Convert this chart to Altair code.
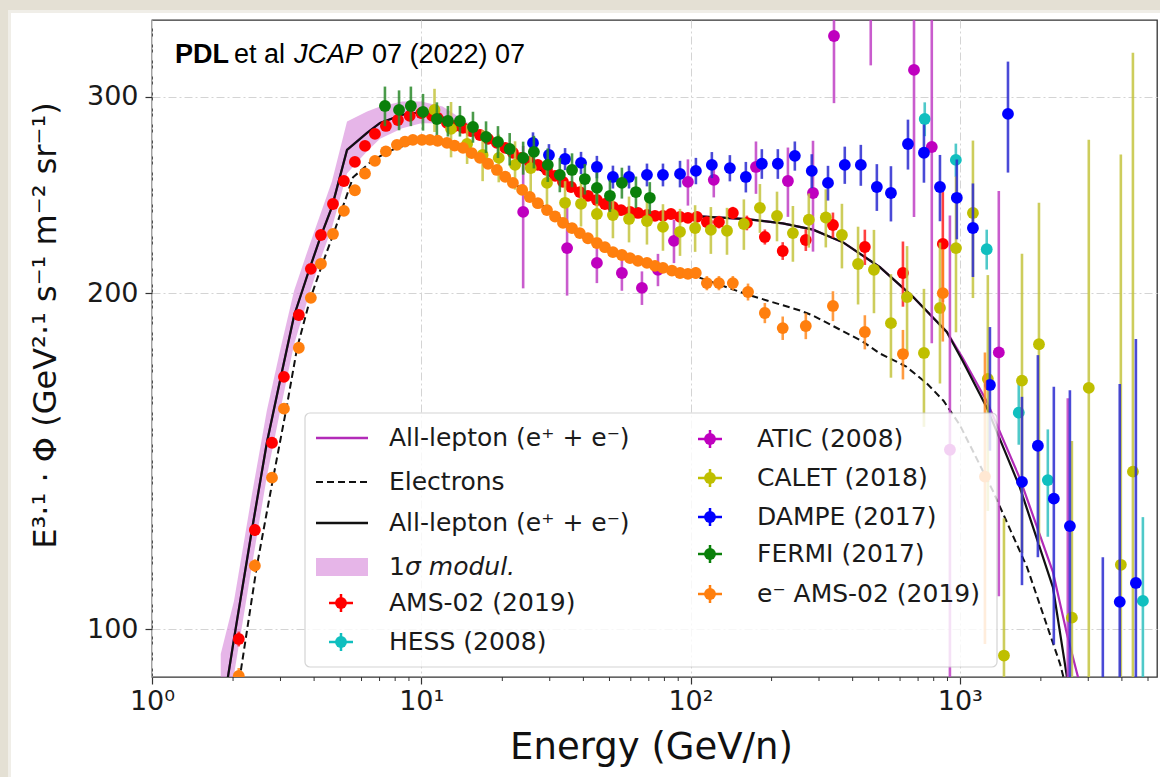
import altair as alt
import pandas as pd

# ---------------- model curves ----------------
lep_E = [1.85, 2.016, 2.35, 2.67, 3.01, 3.37, 3.80, 4.21, 4.66, 5.30, 6.29, 7.03, 8.5, 10, 11, 13, 15, 20, 25, 30,
         40, 50, 60, 80, 100, 162, 220, 285, 370, 505, 670, 895, 1024, 1259, 1671, 2218, 2500, 2700]
lep_Y = [86, 98, 122.7, 146.9, 168.3, 190.9, 208.5, 224.1, 239, 268.8, 278.4, 284.2, 289, 290.5, 290, 285, 280, 270, 262, 255,
         246, 240.5, 237, 235, 234.6, 233, 231, 228, 222, 211, 198.5, 184.6, 174, 158, 134, 109, 90.6, 82]

mod_E = [1.85, 2.016, 2.35, 2.67, 3.01, 3.37, 3.80, 4.21, 4.66, 5.30, 6.29, 7.03, 8.5, 10, 11, 13, 15, 20, 25, 30,
         40, 50, 60, 80, 100, 162, 220, 285, 370, 505, 670, 895, 1024, 1259, 1671, 2218, 2500, 2800, 3000]
mod_Y = [86, 98, 122.7, 146.9, 168.3, 190.9, 208.5, 224.1, 239, 268.8, 278.4, 284.2, 289, 290.5, 290, 285, 280, 270, 262, 255,
         246, 240.5, 237, 235, 234.6, 233, 231, 228, 222, 211, 198.5, 184.6, 175, 160, 136.5, 112.5, 99, 89, 84]

ele_E = [2.0, 2.12, 2.45, 2.81, 3.15, 3.46, 3.86, 4.28, 4.78, 5.58, 6.62, 7.8, 10, 11.7, 15, 20, 25, 30, 40, 50,
         60, 80, 101, 162, 255, 285, 436, 505, 630, 755, 870, 1000, 1327, 1778, 2360, 2500]
ele_Y = [84, 90.6, 113.8, 136.1, 157.3, 178.7, 197.3, 212, 228, 254, 263.3, 268.8, 274.5, 274.5, 269, 256, 245, 237, 226, 219,
         215.5, 211, 207.7, 199.5, 193, 191, 181, 176.6, 172, 166, 160.2, 152.4, 133, 113.6, 93, 88]

band_E = [1.8, 2.016, 2.35, 2.67, 3.01, 3.37, 3.8, 4.21, 4.66, 5.3, 6.29, 7.03, 8.5, 10, 12, 15, 20, 30]
band_lo = [80, 91, 114, 137, 158, 180, 198, 214, 229, 256, 268, 275, 281, 284, 284, 278, 269, 255]
band_hi = [95, 106, 132, 157, 179, 201, 219, 235, 252, 285, 291, 294, 297, 297, 294, 284, 273, 256]

# ---------------- data sets ----------------
ams_E = [2.10, 2.41, 2.79, 3.09, 3.51, 3.89, 4.24, 4.70, 5.16, 5.67, 6.18, 6.73, 7.39, 8.19, 9.06, 10.0, 10.96, 11.5, 12.46, 13.3,
         14.29, 15.3, 16.52, 17.7, 19.1, 20.5, 21.9, 23.5, 25.3, 27.1, 29.3, 31.4, 33.6, 36.0, 38.8, 41.6, 44.9, 48.1, 51.5, 55.2,
         59.6, 63.8, 68.9, 73.8, 79, 84.6, 91.4, 97.8, 105.6, 115, 127.5, 143.6, 161.9, 188.8, 220, 268, 338, 444, 615, 865]
ams_Y = [98.0, 122.7, 146.9, 168.3, 191.2, 210.3, 225.5, 240.4, 252.1, 262.2, 271.0, 277.8, 282.4, 285.9, 288.3, 290.0, 288.5, 287.1, 284.2, 282.4,
         281.3, 279.5, 277.2, 275.0, 272.7, 269.9, 267.2, 264.4, 262.2, 260.6, 257.9, 254.8, 251.6, 249.0, 246.4, 244.5, 242.4, 240.4, 239.0, 237.4,
         236.5, 236.0, 235.1, 234.6, 234.6, 235.5, 234.1, 233.6, 234.1, 231.6, 231.6, 236, 231.2, 224.6, 218.2, 223.2, 230.2, 220, 208.5, 221.4]
ams_err = [1.5, 1.5, 1.5, 1.5, 2, 2, 2, 2, 2, 2, 2, 2, 2, 2, 2, 2, 2, 2, 2, 2,
           2, 2, 2, 2, 2, 2, 2, 2, 2, 2, 2, 2, 2, 2, 2, 2, 2, 2, 2, 2,
           2, 2, 2, 2, 2, 2, 2, 2, 2.5, 2.5, 3, 3, 3.5, 3.5, 4, 5, 6, 8, 14, 25]

hess_E = [741, 967, 1259, 1656, 2123, 4786]
hess_Y = [286.5, 263.3, 219, 156.3, 136, 106]
hess_err = [10, 9, 9, 10, 15, 20]

atic_E = [23.9, 34.8, 44.9, 55.6, 66.0, 75.7, 86.8, 97.8, 122, 175, 230, 285, 341, 467, 676, 787, 919, 1396, 2518]
atic_Y = [236.5, 219.5, 212.9, 208.5, 202.2, 209.9, 222.8, 251.6, 252.7, 259.5, 252.1, 245.9, 340, 380, 317, 270.4, 144.8, 177, 80]
atic_err = [34.5, 20.5, 8.7, 7.5, 7, 7, 10, 12, 9, 14, 18, 28, 44, 60, 83, 90, 90, 70, 81]

calet_E = [11.2, 12.9, 14.8, 16.9, 19.4, 22.3, 25.5, 29.3, 34.2, 39.2, 44.9, 51.5, 59.1, 68.9, 79, 91.4, 104, 119, 136.6, 157.8,
           181, 209.5, 240, 275, 318, 365, 419, 480, 555, 637, 736, 844, 968, 1119, 1271, 1459, 1702, 1968, 2608, 3014, 3964, 4395]
calet_Y = [291.9, 280.7, 272.1, 266, 264.4, 260.6, 258.9, 251.1, 241, 240.5, 235.5, 235, 233.1, 232.1, 229.3, 227, 228.8, 227.9, 227.5, 230.7,
           238.5, 234.6, 226.4, 232.7, 233.8, 225.5, 212.4, 209.9, 188, 198.4, 176.8, 194, 219.5, 236, 167.6, 94.7, 167, 180, 102.4, 164.5, 114.2, 138.4]
calet_err = [13, 16, 11, 14, 13, 13, 13, 12, 11, 11, 11, 11, 11, 11, 11, 11, 11, 11, 11, 12,
             12, 12, 13, 13, 14, 15, 17, 18, 20, 22, 25, 28, 35, 38, 40, 31, 50, 61, 45, 110, 152, 190]

dampe_E = [26.0, 29.8, 34.2, 39.2, 44.9, 51.5, 59.1, 68.9, 79, 91.4, 104.7, 120, 140, 160.5, 184, 211, 244, 282, 324, 374,
           429, 492, 555, 642, 736, 844, 975, 1119, 1294, 1510, 1702, 1950, 2235, 2564, 3398, 3927, 4508]
dampe_Y = [272.7, 266, 263.8, 261.7, 259.5, 254.2, 254.2, 255.3, 255.3, 255.8, 257.4, 260.6, 258.9, 254.2, 261.2, 261.2, 265.5, 257.4, 251.1, 260.6,
           260.6, 249, 245.9, 272.1, 267.2, 249, 243.5, 228.8, 165.5, 289.5, 135.5, 146, 130.9, 123.7, 85, 105.8, 110]
dampe_err = [6, 6, 6, 6, 6, 6, 6, 6, 6, 7, 7, 7, 7, 8, 8, 8, 8, 9, 9, 10,
             11, 12, 14, 14, 16, 17, 20, 22, 21, 33, 26, 30, 34, 40, 31, 60, 72]

fermi_E = [7.33, 8.27, 9.15, 10.15, 11.43, 12.56, 13.92, 15.56, 17.4, 19.27, 21.3, 23.9, 26.2, 29.5, 32.7, 36.3, 40.5, 44.9, 50.2, 55.6, 62.7, 70.6]
fermi_Y = [294.3, 291.9, 294.3, 290.7, 286.5, 285.3, 285.3, 281.8, 276.1, 273.3, 269.3, 264.4, 267.7, 260.6, 255.3, 257.9, 253.1, 248.5, 244.5, 251.1, 246.4, 243.5]
fermi_err = [12, 12, 12, 11, 10, 9, 9, 9, 9, 9, 9, 9, 9, 9, 9, 9, 8, 8, 8, 8, 8, 8]

eams_E = [2.10, 2.41, 2.79, 3.09, 3.51, 3.89, 4.24, 4.70, 5.16, 5.67, 6.18, 6.73, 7.39, 8.12, 8.70, 9.31, 10.06, 10.77, 11.5, 12.46,
          13.3, 14.29, 15.4, 16.52, 17.7, 19.1, 20.5, 21.9, 23.7, 25.3, 27.1, 29.3, 31.4, 33.6, 36.3, 38.8, 41.6, 44.9, 48.1, 51.5,
          55.6, 59.6, 63.8, 68.9, 73.8, 79, 85.3, 91.4, 97.8, 104.6, 115, 127.5, 143.6, 163.5, 188.8, 220, 268, 338, 444, 615, 865, 1240]
eams_Y = [90.8, 114.0, 136.7, 157.6, 178.7, 198.1, 212.5, 226, 237, 247.3, 256, 262.8, 268, 271.6, 273.4, 274.4, 274.4, 274.4, 273.9, 272.7,
          271.2, 269.9, 267, 264.4, 261.2, 257.9, 254.3, 251.1, 247.5, 243.9, 240.8, 237.4, 234.3, 231.2, 228.7, 226.4, 224, 221.8, 219.9, 217.7,
          216.4, 215, 213.8, 212.9, 211.6, 210.7, 209.5, 208.5, 208.1, 208.5, 204.2, 204.2, 204.2, 200.5, 192, 186.1, 186.9, 194.8, 184.6, 176.4, 200, 137]
eams_err = [1.5, 1.5, 1.5, 1.5, 2, 2, 2, 2, 2, 2, 2, 2, 2, 2, 2, 2, 2, 2, 2, 2,
            2, 2, 2, 2, 2, 2, 2, 2, 2, 2, 2, 2, 2, 2, 2, 2, 2, 2, 2, 2,
            2, 2, 2, 2, 2, 2, 2, 2, 2, 2.5, 3, 3, 3, 3.5, 4, 4.5, 5, 6, 6.5, 9, 19, 40]

x_ticks = [1, 10, 100, 1000]
x_minor = [2, 3, 4, 5, 6, 7, 8, 9, 20, 30, 40, 50, 60, 70, 80, 90,
           200, 300, 400, 500, 600, 700, 800, 900, 2000, 3000, 4000, 5000]
y_ticks = [100, 200, 300]

# ---------------- chart ----------------
W, H = 1005, 657
xs = alt.Scale(type="log", domain=[1, 5400], nice=False)
ys = alt.Scale(type="log", domain=[90.6, 351.4], nice=False)
FONT = "DejaVu Sans"

x_axis = alt.Axis(values=x_ticks,
                  labelExpr="datum.value == 1 ? '10⁰' : datum.value == 10 ? '10¹' : datum.value == 100 ? '10²' : '10³'",
                  title="Energy (GeV/n)", grid=True, gridColor="#d4d4d4", gridDash=[8, 3, 2, 3], gridWidth=1,
                  tickSize=7, tickWidth=1.2, tickColor="#333333", domain=False,
                  labelFont=FONT, labelFontSize=27, labelColor="#1a1a1a", labelPadding=4,
                  labelFlush=False, labelOverlap=False,
                  titleFont=FONT, titleFontSize=37, titleFontWeight="normal", titleColor="#111111",
                  titleX=499, titleY=81, titleBaseline="alphabetic", titleAlign="center")
y_axis = alt.Axis(values=y_ticks, format="d",
                  title="E³·¹ · Φ (GeV²·¹ s⁻¹ m⁻² sr⁻¹)", grid=True, gridColor="#d4d4d4", gridDash=[8, 3, 2, 3], gridWidth=1,
                  tickSize=7, tickWidth=1.2, tickColor="#333333", domain=False,
                  labelFont=FONT, labelFontSize=27, labelColor="#1a1a1a", labelPadding=7,
                  labelFlush=False, labelOverlap=False,
                  titleFont=FONT, titleFontSize=32, titleFontWeight="normal", titleColor="#111111",
                  titleX=-107, titleY=305, titleAngle=270, titleAlign="center", titleBaseline="middle")


def X(field="E"):
    return alt.X(f"{field}:Q", scale=xs, axis=x_axis)


def Y(field):
    return alt.Y(f"{field}:Q", scale=ys, axis=y_axis)


one = pd.DataFrame({"k": [0]})

band_df = pd.DataFrame({"E": band_E, "lo": band_lo, "hi": band_hi})
band = alt.Chart(band_df).mark_area(color="#d47fd8", opacity=0.58, clip=True).encode(
    x=X(), y=Y("lo"), y2="hi:Q")


def curve(E, Yv, color, dash=None, width=2.2):
    df = pd.DataFrame({"E": E, "Y": Yv})
    kw = dict(color=color, strokeWidth=width, clip=True)
    if dash:
        kw["strokeDash"] = dash
    return alt.Chart(df).mark_line(**kw).encode(x=X(), y=Y("Y"))


mag_line = curve(mod_E, mod_Y, "#b22bb8")
blk_line = curve(lep_E, lep_Y, "#111111")
ele_line = curve(ele_E, ele_Y, "#111111", dash=[7, 4], width=2)


def series(E, Yv, err, color, bar_color):
    df = pd.DataFrame({"E": E, "Y": Yv,
                       "lo": [max(y - e, 10) for y, e in zip(Yv, err)],
                       "hi": [y + e for y, e in zip(Yv, err)]})
    bars = alt.Chart(df).mark_rule(color=bar_color, strokeWidth=2.6, opacity=0.85, clip=True).encode(
        x=X(), y=Y("lo"), y2="hi:Q")
    pts = alt.Chart(df).mark_circle(color=color, size=140, opacity=1, clip=True).encode(x=X(), y=Y("Y"))
    return [bars, pts]


C_RED, C_CYAN, C_MAG, C_YEL, C_BLUE, C_GREEN, C_ORG = "#ff0000", "#10bfbf", "#bf00bf", "#bfbf00", "#0000ff", "#0a800a", "#ff7f0e"
data_layers = (series(ams_E, ams_Y, ams_err, C_RED, "#ff2020")
               + series(hess_E, hess_Y, hess_err, C_CYAN, "#30c0c0")
               + series(atic_E, atic_Y, atic_err, C_MAG, "#c040c4")
               + series(calet_E, calet_Y, calet_err, C_YEL, "#c4c440")
               + series(dampe_E, dampe_Y, dampe_err, C_BLUE, "#2a2ad0")
               + series(fermi_E, fermi_Y, fermi_err, C_GREEN, "#2a8a2a")
               + series(eams_E, eams_Y, eams_err, C_ORG, "#ff8a20"))

minor_df = pd.DataFrame({"E": x_minor})
minor = alt.Chart(minor_df).mark_rule(color="#333333", strokeWidth=1).encode(
    x=X(), y=alt.value(H), y2=alt.value(H + 4))


def vrect(x1, x2, y1, y2, color, **kw):
    return alt.Chart(one).mark_rect(color=color, **kw).encode(
        x=alt.value(x1), x2=alt.value(x2), y=alt.value(y1), y2=alt.value(y2))


def hline(x1, x2, y, color, width=2.5, dash=None):
    kw = dict(color=color, strokeWidth=width)
    if dash:
        kw["strokeDash"] = dash
    return alt.Chart(one).mark_rule(**kw).encode(x=alt.value(x1), x2=alt.value(x2), y=alt.value(y))


def vline(x, y1, y2, color, width=2.5):
    return alt.Chart(one).mark_rule(color=color, strokeWidth=width).encode(x=alt.value(x), y=alt.value(y1), y2=alt.value(y2))


def text(t, x, y, size=25, style="normal", weight="normal", font=FONT, color="#1a1a1a", baseline="middle"):
    return alt.Chart(one).mark_text(align="left", baseline=baseline, font=font, fontSize=size,
                                    fontStyle=style, fontWeight=weight, color=color).encode(
        x=alt.value(x), y=alt.value(y), text=alt.value(t))


def marker(x, y, color):
    return [hline(x - 12, x + 12, y, color, 2.5), vline(x, y - 9, y + 9, color, 2.5),
            alt.Chart(one).mark_circle(color=color, size=140, opacity=1).encode(x=alt.value(x), y=alt.value(y))]


# page frame strips (outside the plot area)
frame = [vrect(-152, 1008, -20, -10, "#e4e0d4"), vrect(-152, 1008, -10, -7, "#f0eee8"),
         vrect(-152, -144, -20, 757, "#e4e0d4"), vrect(-144, -141, -10, 757, "#f0eee8")]

# legend (pixel layout inside plot area)
LX1, LX2, TX = 164, 216, 237
RM, RT = 558, 605
legend = [vrect(153, 845, 393, 647, "#ffffff", opacity=0.82, stroke="#cccccc", strokeWidth=1.2, cornerRadius=5),
          hline(LX1, LX2, 418, "#b22bb8"), text("All-lepton (e⁺ + e⁻)", TX, 418),
          hline(LX1, LX2, 462, "#111111", 2, [7, 4]), text("Electrons", TX, 462),
          hline(LX1, LX2, 503, "#111111"), text("All-lepton (e⁺ + e⁻)", TX, 503),
          vrect(LX1, LX2, 538, 556, "#d47fd8", opacity=0.58), text("1", TX, 547),
          text("σ modul.", TX + 16, 547, style="italic"),
          text("AMS-02 (2019)", TX, 583), text("HESS (2008)", TX, 622),
          text("ATIC (2008)", RT, 419), text("CALET (2018)", RT, 458), text("DAMPE (2017)", RT, 497),
          text("FERMI (2017)", RT, 534), text("e⁻ AMS-02 (2019)", RT, 574)]
legend += marker(189, 583, C_RED) + marker(189, 622, C_CYAN)
legend += marker(RM, 419, C_MAG) + marker(RM, 458, C_YEL) + marker(RM, 497, C_BLUE)
legend += marker(RM, 534, C_GREEN) + marker(RM, 574, C_ORG)

ANN = "Liberation Sans"
note = [text("PDL", 23, 43, size=27, weight="bold", font=ANN, color="#000000", baseline="alphabetic"),
        text("et al", 82, 43, size=27, font=ANN, color="#000000", baseline="alphabetic"),
        text("JCAP", 142, 43, size=27, style="italic", font=ANN, color="#000000", baseline="alphabetic"),
        text("07 (2022) 07", 220, 43, size=27, font=ANN, color="#000000", baseline="alphabetic")]

layers = frame + [band, mag_line, blk_line, ele_line] + data_layers + [minor] + legend + note

chart = alt.layer(*layers).properties(
    width=W, height=H,
    autosize=alt.AutoSizeParams(type="none"),
    padding={"left": 152, "top": 20, "right": 3, "bottom": 100},
    background="#ffffff",
).configure_view(stroke="#333333", strokeWidth=1.3)

chart.save("out.html", embed_options={"renderer": "svg", "actions": False})
